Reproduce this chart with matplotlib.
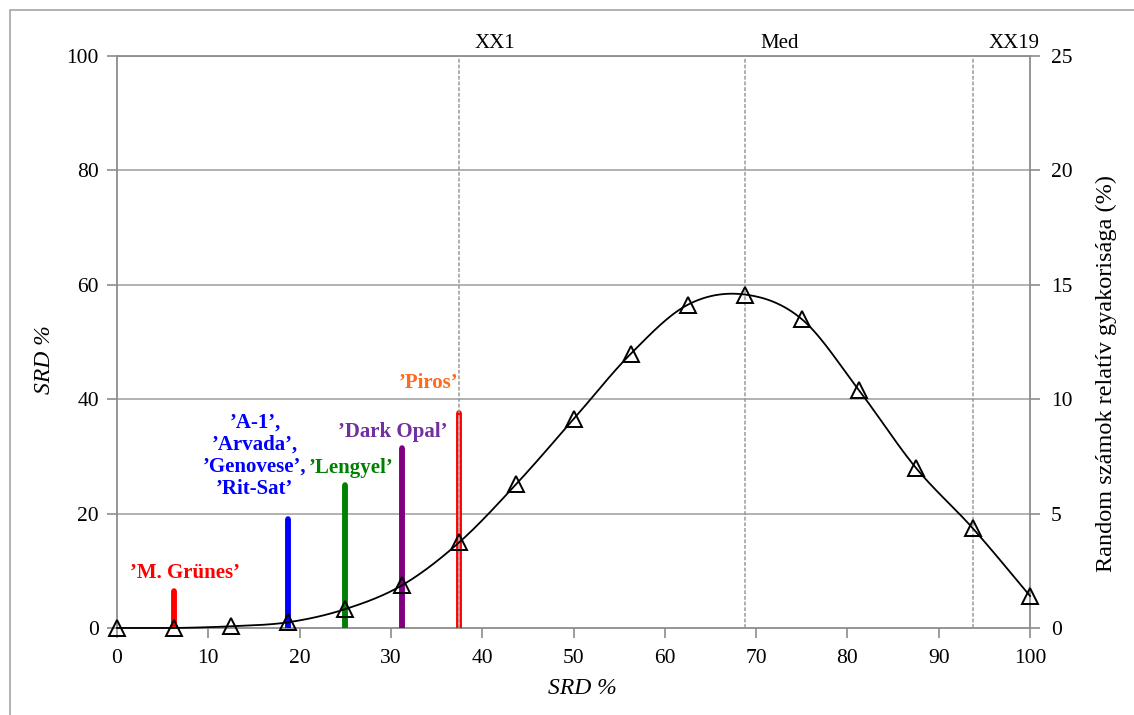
import numpy as np
import matplotlib.pyplot as plt
from matplotlib.patches import Rectangle

plt.rcParams['font.family'] = ['Liberation Serif', 'DejaVu Serif']

# Relative frequency of random numbers (in left-axis SRD % units)
srd_x = [0, 6.25, 12.5, 18.75, 25, 31.25, 37.5, 43.75, 50, 56.25, 62.5,
         68.75, 75, 81.25, 87.5, 93.75, 100]
freq_y = [0, 0, 0.3, 1.0, 3.3, 7.5, 15.0, 25.2, 36.5, 47.9, 56.5,
          58.3, 54.0, 41.6, 28.0, 17.4, 5.6]

# Cultivar SRD values
cultivar_x = [6.25, 18.75, 25, 31.25, 37.5]
cultivar_y = [6.5, 19.0, 25.0, 31.5, 37.5]
cultivar_labels = ["’M. Grünes’", "’A-1’,\n’Arvada’,\n’Genovese’,\n’Rit-Sat’",
                   "’Lengyel’", "’Dark Opal’", "’Piros’"]
bar_colors = ['#FF0000', '#0000FF', '#008000', '#800080', '#FF0000']
label_colors = ['#FF0000', '#0000FF', '#008000', '#7030A0', '#FF6A21']
label_pos = [(7.45, 9.6), (15.1, 30.1), (25.6, 28.0), (30.2, 34.3), (34.1, 42.8)]

# Reference lines
ref_x = [37.5, 68.75, 93.75]
ref_labels = ['XX1', 'Med', 'XX19']

x_ticks = list(range(0, 101, 10))
y_ticks = list(range(0, 101, 20))
y2_ticks = list(range(0, 26, 5))


def smooth_curve(x, y, n=30):
    """Catmull-Rom style smoothing through the points (as in spreadsheet smoothed lines)."""
    x = np.asarray(x, float)
    y = np.asarray(y, float)
    px = np.concatenate([[x[0]], x, [x[-1]]])
    py = np.concatenate([[y[0]], y, [y[-1]]])
    xs, ys = [], []
    for i in range(1, len(px) - 2):
        p0 = np.array([px[i - 1], py[i - 1]])
        p1 = np.array([px[i], py[i]])
        p2 = np.array([px[i + 1], py[i + 1]])
        p3 = np.array([px[i + 2], py[i + 2]])
        c1 = p1 + (p2 - p0) / 6.0
        c2 = p2 - (p3 - p1) / 6.0
        t = np.linspace(0, 1, n)[:, None]
        b = ((1 - t) ** 3) * p1 + 3 * ((1 - t) ** 2) * t * c1 + 3 * (1 - t) * t ** 2 * c2 + t ** 3 * p2
        xs.append(b[:, 0])
        ys.append(b[:, 1])
    return np.concatenate(xs), np.concatenate(ys)


fig = plt.figure(figsize=(11.34, 7.15), dpi=100)
ax = fig.add_axes([0.1032, 0.1217, 0.8051, 0.8])

# figure frame
fig.patches.append(Rectangle((10 / 1134, -0.1), 1.2, (715 - 10) / 715 + 0.1,
                             transform=fig.transFigure, fill=False,
                             edgecolor='#A6A6A6', lw=1.2))

grid_c = '#ABABAB'
for yv in y_ticks[1:]:
    ax.axhline(yv, color=grid_c, lw=1.3, zorder=1)

# cultivar bars
for xv, yv, c in zip(cultivar_x, cultivar_y, bar_colors):
    ax.plot([xv, xv], [0, yv], color=c, lw=4.0, solid_capstyle='round', zorder=3)
    ax.plot([xv, xv], [0, yv], color=c, lw=4.0, solid_capstyle='butt', zorder=3)
# light core of the last bar
ax.plot([cultivar_x[-1]] * 2, [0.3, cultivar_y[-1] - 0.4], color='#FFB0B0', lw=1.2, zorder=3.5)

# reference lines
for xv, lab in zip(ref_x, ref_labels):
    ax.axvline(xv, color='#9A9A9A', lw=1.1, ls=(0, (2.5, 1.2)), zorder=4)
    ax.text(xv + 1.7, 100.5, lab, ha='left', va='bottom', fontsize=15)

# smoothed frequency curve with triangle markers
sx, sy = smooth_curve(srd_x, freq_y)
ax.plot(sx, sy, color='black', lw=1.3, zorder=5, clip_on=False)
ax.plot(srd_x, freq_y, ls='none', marker='^', ms=11, mfc='none', mec='black',
        mew=1.4, zorder=6, clip_on=False)

for lab, (lx, ly), c in zip(cultivar_labels, label_pos, label_colors):
    ax.text(lx, ly, lab, ha='center', va='center', fontsize=15, fontweight='bold',
            color=c, linespacing=1.15, zorder=7)

ax.set_xlim(0, 100)
ax.set_ylim(0, 100)
ax.set_xticks(x_ticks)
ax.set_yticks(y_ticks)
ax.tick_params(axis='both', labelsize=15.5, color='#8C8C8C', length=7, width=1.2, pad=6)
ax.tick_params(axis='x', pad=8)
for side in ['left', 'bottom', 'top', 'right']:
    ax.spines[side].set_color('#8C8C8C')
    ax.spines[side].set_linewidth(1.3)
ax.set_xlabel('SRD %', fontsize=17, style='italic')
ax.xaxis.set_label_coords(0.51, -0.105)
ax.xaxis.label.set_va('center')
ax.set_ylabel('SRD %', fontsize=17, style='italic')
ax.yaxis.set_label_coords(-0.079, 0.47)
ax.yaxis.label.set_va('center')
ax.yaxis.label.set_ha('center')

ax2 = ax.twinx()
ax2.set_ylim(0, 25)
ax2.set_yticks(y2_ticks)
ax2.tick_params(axis='y', labelsize=15.5, color='#8C8C8C', length=7, width=1.2, pad=8)
for side in ['left', 'bottom', 'top', 'right']:
    ax2.spines[side].set_visible(False)
ax2.set_ylabel('Random számok relatív gyakorisága (%)', fontsize=17.5)
ax2.yaxis.set_label_coords(1.084, 0.445)
ax2.yaxis.label.set_va('center')
ax2.yaxis.label.set_ha('center')

fig.savefig('out.png', dpi=100)
